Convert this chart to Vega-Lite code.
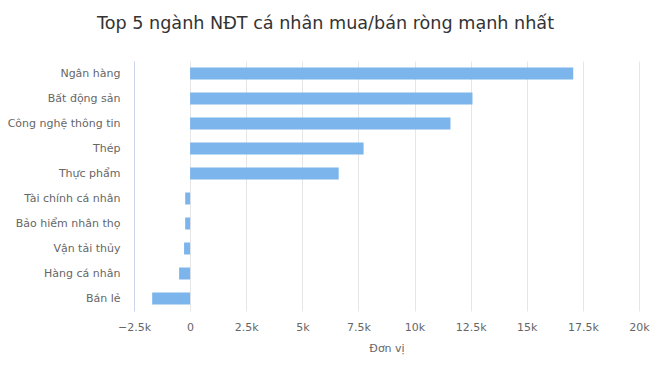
{
  "$schema": "https://vega.github.io/schema/vega-lite/v6.json",
  "autosize": "none",
  "width": 505,
  "height": 250,
  "padding": {"left": 134, "top": 61, "right": 17, "bottom": 61},
  "background": "white",
  "title": {
    "text": "Top 5 ngành NĐT cá nhân mua/bán ròng mạnh nhất",
    "font": "DejaVu Sans",
    "fontSize": 17.6,
    "fontWeight": "normal",
    "color": "#333333",
    "anchor": "middle",
    "frame": "group",
    "dx": -61,
    "offset": 28
  },
  "data": {
    "values": [
      {"nganh": "Ngân hàng", "value": 17070},
      {"nganh": "Bất động sản", "value": 12580},
      {"nganh": "Công nghệ thông tin", "value": 11600},
      {"nganh": "Thép", "value": 7730},
      {"nganh": "Thực phẩm", "value": 6620},
      {"nganh": "Tài chính cá nhân", "value": -220},
      {"nganh": "Bảo hiểm nhân thọ", "value": -220},
      {"nganh": "Vận tải thủy", "value": -270},
      {"nganh": "Hàng cá nhân", "value": -490},
      {"nganh": "Bán lẻ", "value": -1690}
    ]
  },
  "mark": {"type": "bar", "color": "#7cb5ec"},
  "encoding": {
    "y": {
      "field": "nganh",
      "type": "nominal",
      "sort": null,
      "scale": {"paddingInner": 0.52, "paddingOuter": 0.26},
      "axis": {
        "title": null,
        "ticks": false,
        "domain": true,
        "domainColor": "#ccd6eb",
        "labelPadding": 14,
        "labelFont": "DejaVu Sans",
        "labelFontSize": 11,
        "labelColor": "#666666",
        "grid": false
      }
    },
    "x": {
      "field": "value",
      "type": "quantitative",
      "scale": {"domain": [-2500, 20000], "nice": false, "zero": false},
      "axis": {
        "title": "Đơn vị",
        "titleFont": "DejaVu Sans",
        "titleFontSize": 11,
        "titleFontWeight": "normal",
        "titleColor": "#666666",
        "titlePadding": 10,
        "values": [-2500, 0, 2500, 5000, 7500, 10000, 12500, 15000, 17500, 20000],
        "labelExpr": "datum.value == 0 ? '0' : (datum.value < 0 ? '−' : '') + format(abs(datum.value) / 1000, '') + 'k'",
        "labelFont": "DejaVu Sans",
        "labelFontSize": 11,
        "labelColor": "#666666",
        "labelPadding": 10,
        "domain": false,
        "ticks": false,
        "grid": true,
        "gridColor": "#e6e6e6",
        "labelFlush": false
      }
    }
  },
  "config": {"view": {"stroke": null}}
}
